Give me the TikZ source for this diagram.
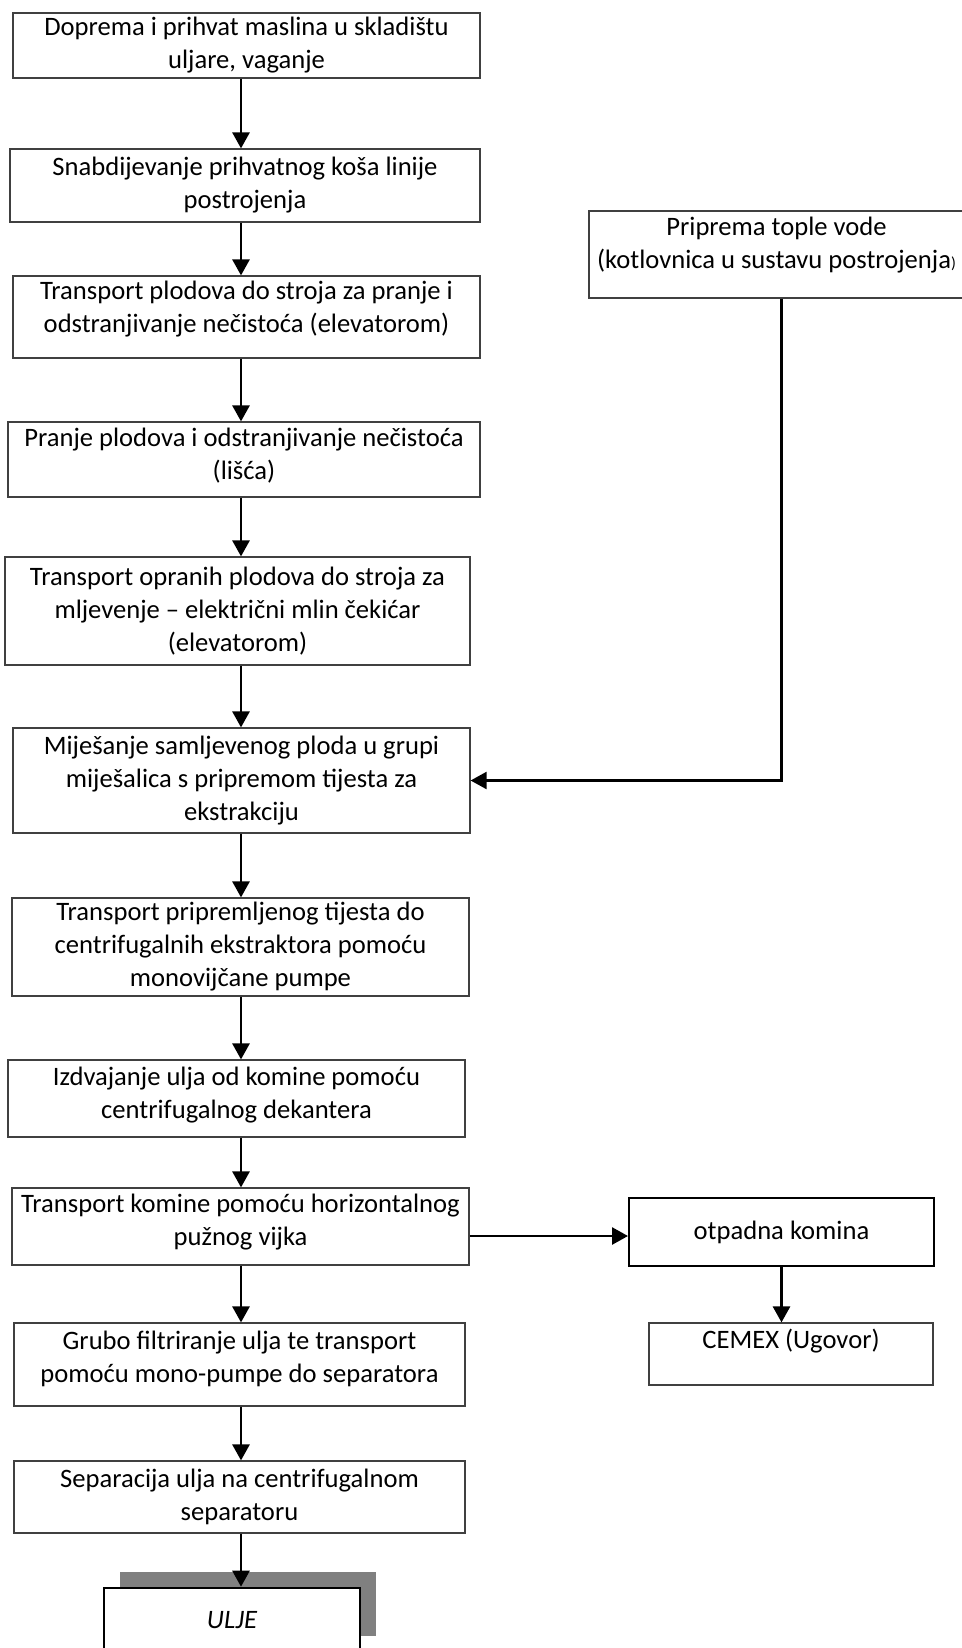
\documentclass[tikz,border=0pt]{standalone}
\usepackage{fontspec}
\setmainfont{Carlito}
\usetikzlibrary{shapes,arrows.meta,positioning,calc,shadows}

\tikzset{
  stepbox/.style={draw=black!75, line width=0.6pt, rectangle, align=center, inner sep=0pt,
    font=\fontsize{13.3}{16.5}\selectfont},
  flow/.style={-{Triangle[width=8.5pt,length=8pt]}, line width=1.35pt},
}

\begin{document}
\begin{tikzpicture}[x=0.5pt, y=-0.5pt]
\useasboundingbox (0,0) rectangle (962,1648);
\coordinate (spine) at (241,0);

% glavna linija postrojenja
\node[stepbox, minimum width=233.5pt, minimum height=32.5pt] (dop) at (246.5,45.5) {Doprema i prihvat maslina u skladištu\\uljare, vaganje};
\node[stepbox, minimum width=235pt, minimum height=36.5pt] (kos) at (245,185.5) {Snabdijevanje prihvatnog koša linije\\postrojenja};
\node[stepbox, minimum width=233.5pt, minimum height=41pt, text depth=10pt] (elev) at (246.5,317) {Transport plodova do stroja za pranje i\\odstranjivanje nečistoća (elevatorom)};
\node[stepbox, minimum width=236pt, minimum height=37.5pt, text depth=6pt] (pranje) at (244,459.5) {Pranje plodova i odstranjivanje nečistoća\\(lišća)};
\node[stepbox, minimum width=232.5pt, minimum height=54pt] (mlin) at (237.5,611) {Transport opranih plodova do stroja za\\mljevenje – električni mlin čekićar\\(elevatorom)};
\node[stepbox, minimum width=228.5pt, minimum height=52.5pt] (mix) at (241.5,780.5) {Miješanje samljevenog ploda u grupi\\miješalica s pripremom tijesta za\\ekstrakciju};
\node[stepbox, minimum width=228.5pt, minimum height=49pt] (tijesto) at (240.5,947) {Transport pripremljenog tijesta do\\centrifugalnih ekstraktora pomoću\\monovijčane pumpe};
\node[stepbox, minimum width=228.5pt, minimum height=38.5pt, text depth=6pt] (dek) at (236.5,1098.5) {Izdvajanje ulja od komine pomoću\\centrifugalnog dekantera};
\node[stepbox, minimum width=228.5pt, minimum height=38.5pt, text depth=7pt] (vijak) at (240.5,1226.5) {Transport komine pomoću horizontalnog\\pužnog vijka};
\node[stepbox, minimum width=225.5pt, minimum height=41.5pt, text depth=8pt] (filt) at (239.5,1364.5) {Grubo filtriranje ulja te transport\\pomoću mono-pumpe do separatora};
\node[stepbox, minimum width=225.5pt, minimum height=36pt] (sep) at (239.5,1497) {Separacija ulja na centrifugalnom\\separatoru};
\node[stepbox, draw=black, line width=1.3pt, fill=white, minimum width=128pt, minimum height=32pt,
  drop shadow={shadow xshift=8pt, shadow yshift=8pt, fill=black!50, opacity=1}] (ulje) at (232,1620) {\itshape ULJE};

% sporedni tokovi
\node[stepbox, minimum width=187.5pt, minimum height=43.5pt, text depth=12pt] (voda) at (776.5,254.5) {Priprema tople vode\\(kotlovnica u sustavu postrojenja{\fontsize{8}{8}\selectfont)}};
\node[stepbox, draw=black, line width=1pt, minimum width=152.5pt, minimum height=34pt] (otp) at (781.5,1232) {otpadna komina};
\node[stepbox, minimum width=142pt, minimum height=31pt, text depth=15pt] (cemex) at (791,1354) {CEMEX (Ugovor)};

% strelice
\foreach \a/\b in {dop/kos, kos/elev, elev/pranje, pranje/mlin, mlin/mix, mix/tijesto, tijesto/dek, dek/vijak, vijak/filt, filt/sep, sep/ulje}
  \draw[flow] (\a.south -| spine) -- (\b.north -| spine);
\draw[flow, line width=1.1pt] (voda.south -| otp.south) |- (mix.east);
\draw[flow] ([yshift=-2pt]vijak.east |- otp.west) -- ([yshift=-2pt]otp.west);
\draw[flow] (otp.south) -- (otp.south |- cemex.north);
\end{tikzpicture}
\end{document}
